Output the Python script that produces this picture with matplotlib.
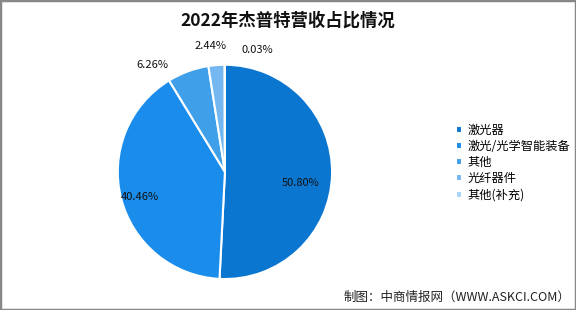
import numpy as np
import matplotlib
matplotlib.use("Agg")
import matplotlib.pyplot as plt
from matplotlib.patches import Rectangle

plt.rcParams['font.family'] = ['Noto Sans CJK SC', 'DejaVu Sans']

# data
categories = ['激光器', '激光/光学智能装备', '其他', '光纤器件', '其他(补充)']
shares = [50.80, 40.46, 6.26, 2.44, 0.03]
colors = ['#0b76d0', '#1a8cec', '#3f9fe9', '#74b7f1', '#a9d3f6']
title = '2022年杰普特营收占比情况'
source = '制图：中商情报网（WWW.ASKCI.COM）'

fig = plt.figure(figsize=(5.76, 3.10), dpi=100)
ax = fig.add_axes([0.158, 0.013, 0.465, 0.865])

wedges, _ = ax.pie(shares, colors=colors, startangle=90, counterclock=False,
                   wedgeprops=dict(edgecolor='white', linewidth=1.5))
ax.set_aspect('equal')

# percentage labels: (radius, angle shift in degrees)
total = sum(shares)
cum = 0
offsets = [(0.71, -7), (0.83, 2), (1.21, 14), (1.18, 2), (1.18, -15)]
for v, (r, dang) in zip(shares, offsets):
    mid = 90 - (cum + v / 2) / total * 360 + dang
    cum += v
    a = np.deg2rad(mid)
    ax.text(r * np.cos(a), r * np.sin(a), f'{v:.2f}%', ha='center', va='center',
            fontsize=8, color='#111111')

leg = fig.legend(wedges, categories, loc='upper left', bbox_to_anchor=(0.772, 0.635),
                 frameon=False, fontsize=8.8, handlelength=0.5, handleheight=0.5,
                 handletextpad=0.5, labelspacing=0.25)

fig.text(0.5, 0.935, title, ha='center', va='center', fontsize=12.5,
         fontweight='bold', color='#111111')
fig.text(0.99, 0.04, source, ha='right', va='center', fontsize=9, color='#222222')

fig.add_artist(Rectangle((0, 0), 1, 1, transform=fig.transFigure, fill=False,
                         edgecolor='#888888', linewidth=2.5))

fig.savefig('out.png', dpi=100)
